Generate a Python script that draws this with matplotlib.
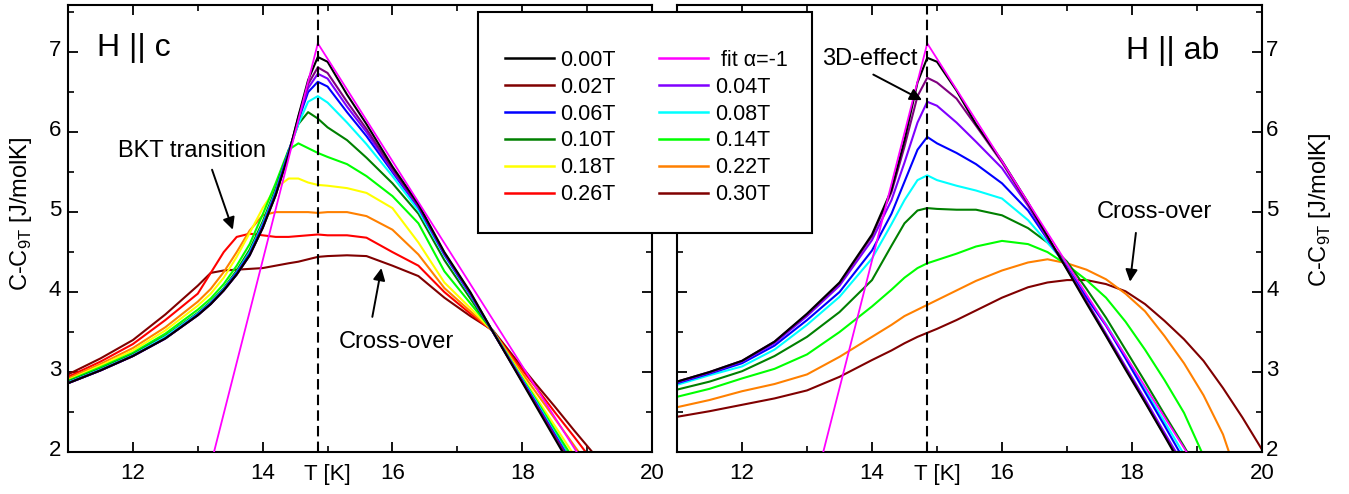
import numpy as np
import matplotlib.pyplot as plt
from matplotlib.lines import Line2D
from matplotlib.patches import Rectangle
from matplotlib.ticker import MultipleLocator
import matplotlib.transforms as mtransforms

plt.rcParams['font.family'] = ['Liberation Sans', 'DejaVu Sans']

# ---- data ----
# H || c panel, shared temperature grid
TL = [11.0, 11.5, 12.0, 12.5, 13.0, 13.2, 13.4, 13.6, 13.8, 14.0, 14.2, 14.4, 14.55, 14.7,
      14.85, 15.0, 15.3, 15.6, 16.0, 16.4, 16.8, 17.2, 17.55, 17.9, 18.2, 18.5, 18.8, 19.1, 19.3]

c000 = [2.86, 3.02, 3.20, 3.42, 3.71, 3.85, 4.02, 4.22, 4.46, 4.80, 5.21, 5.72, 6.20, 6.65,
        6.94, 6.88, 6.47, 6.10, 5.57, 5.10, 4.50, 4.00, 3.50, 3.01, 2.59, 2.17, 1.75]
c002 = [2.86, 3.02, 3.20, 3.42, 3.71, 3.85, 4.02, 4.22, 4.46, 4.80, 5.21, 5.72, 6.19, 6.60,
        6.81, 6.74, 6.38, 6.04, 5.54, 5.08, 4.49, 3.99, 3.50, 3.02, 2.61, 2.20, 1.79]
c004 = [2.86, 3.02, 3.20, 3.42, 3.71, 3.85, 4.02, 4.22, 4.46, 4.81, 5.22, 5.73, 6.17, 6.55,
        6.73, 6.67, 6.32, 6.00, 5.52, 5.07, 4.48, 3.98, 3.50, 3.02, 2.61, 2.20, 1.79]
c006 = [2.86, 3.02, 3.20, 3.42, 3.72, 3.86, 4.03, 4.24, 4.48, 4.83, 5.24, 5.75, 6.15, 6.50,
        6.63, 6.57, 6.25, 5.95, 5.50, 5.06, 4.47, 3.97, 3.50, 3.03, 2.63, 2.22, 1.81]
c008 = [2.87, 3.03, 3.21, 3.44, 3.73, 3.87, 4.04, 4.25, 4.50, 4.85, 5.26, 5.76, 6.10, 6.38,
        6.45, 6.37, 6.12, 5.85, 5.45, 5.02, 4.46, 3.96, 3.50, 3.04, 2.65, 2.24, 1.83]
c010 = [2.88, 3.04, 3.22, 3.45, 3.74, 3.88, 4.05, 4.27, 4.53, 4.88, 5.29, 5.77, 6.10, 6.25,
        6.17, 6.06, 5.90, 5.68, 5.36, 4.98, 4.40, 3.92, 3.50, 3.03, 2.64, 2.24, 1.84]
c014 = [2.89, 3.06, 3.24, 3.48, 3.78, 3.92, 4.10, 4.33, 4.60, 4.97, 5.36, 5.78, 5.86, 5.80,
        5.74, 5.69, 5.60, 5.45, 5.20, 4.86, 4.26, 3.86, 3.51, 3.05, 2.67, 2.28, 1.90]
c018 = [2.90, 3.08, 3.27, 3.52, 3.83, 3.98, 4.18, 4.44, 4.74, 5.05, 5.30, 5.42, 5.42, 5.37,
        5.34, 5.33, 5.30, 5.24, 5.05, 4.62, 4.12, 3.80, 3.51, 3.07, 2.70, 2.33, 1.96, 1.60]
c022 = [2.92, 3.10, 3.30, 3.56, 3.88, 4.04, 4.25, 4.50, 4.77, 4.96, 5.00, 5.00, 5.00, 5.00,
        4.99, 5.00, 5.00, 4.95, 4.78, 4.47, 4.05, 3.76, 3.51, 3.10, 2.76, 2.42, 2.08, 1.74]
c026 = [2.94, 3.13, 3.35, 3.65, 3.98, 4.24, 4.50, 4.69, 4.73, 4.71, 4.69, 4.69, 4.70, 4.71,
        4.72, 4.71, 4.71, 4.68, 4.50, 4.33, 4.00, 3.73, 3.51, 3.13, 2.82, 2.50, 2.19, 1.87]
c030 = [2.97, 3.17, 3.40, 3.72, 4.08, 4.24, 4.27, 4.28, 4.29, 4.30, 4.33, 4.36, 4.38, 4.41,
        4.44, 4.45, 4.46, 4.45, 4.33, 4.20, 3.93, 3.70, 3.52, 3.16, 2.86, 2.57, 2.27, 1.98, 1.78]

# H || ab panel, shared temperature grid
TR = [11.0, 11.5, 12.0, 12.5, 13.0, 13.5, 14.0, 14.3, 14.5, 14.7, 14.85, 15.0, 15.3, 15.6,
      16.0, 16.4, 16.7, 17.0, 17.3, 17.6, 17.9, 18.2, 18.5, 18.8, 19.1, 19.4, 19.7, 20.0]

r000 = [2.88, 3.00, 3.14, 3.38, 3.73, 4.12, 4.72, 5.28, 5.90, 6.62, 6.93, 6.88, 6.52, 6.10,
        5.64, 5.12, 4.70, 4.28, 3.86, 3.45, 3.03, 2.62, 2.20, 1.77]
r002 = [2.88, 3.00, 3.14, 3.38, 3.72, 4.11, 4.70, 5.25, 5.82, 6.45, 6.68, 6.62, 6.42, 6.08,
        5.62, 5.10, 4.69, 4.29, 3.88, 3.46, 3.05, 2.63, 2.21, 1.80]
r004 = [2.87, 2.99, 3.13, 3.36, 3.70, 4.08, 4.65, 5.15, 5.62, 6.12, 6.38, 6.33, 6.12, 5.88,
        5.55, 5.08, 4.67, 4.30, 3.89, 3.48, 3.07, 2.66, 2.24, 1.83]
r006 = [2.86, 2.98, 3.11, 3.33, 3.65, 4.00, 4.52, 4.98, 5.38, 5.78, 5.94, 5.86, 5.74, 5.60,
        5.36, 5.02, 4.66, 4.31, 3.93, 3.58, 3.17, 2.75, 2.33, 1.90]
r008 = [2.84, 2.96, 3.07, 3.28, 3.59, 3.94, 4.42, 4.85, 5.15, 5.40, 5.46, 5.40, 5.33, 5.27,
        5.17, 4.90, 4.62, 4.33, 3.95, 3.60, 3.20, 2.78, 2.38, 1.97, 1.60]
r010 = [2.78, 2.88, 3.01, 3.20, 3.44, 3.75, 4.15, 4.58, 4.86, 5.02, 5.05, 5.04, 5.03, 5.03,
        4.96, 4.80, 4.62, 4.38, 4.04, 3.68, 3.28, 2.88, 2.47, 2.07, 1.65]
r014 = [2.69, 2.79, 2.92, 3.04, 3.22, 3.50, 3.82, 4.03, 4.18, 4.30, 4.36, 4.40, 4.48, 4.57,
        4.64, 4.60, 4.50, 4.34, 4.15, 3.93, 3.63, 3.28, 2.90, 2.49, 1.95, 1.50]
r022 = [2.56, 2.65, 2.76, 2.85, 2.97, 3.19, 3.44, 3.59, 3.70, 3.78, 3.84, 3.90, 4.02, 4.14,
        4.27, 4.37, 4.41, 4.36, 4.28, 4.16, 3.98, 3.76, 3.45, 3.11, 2.71, 2.22, 1.50]
r030 = [2.44, 2.51, 2.59, 2.67, 2.77, 2.94, 3.15, 3.27, 3.36, 3.44, 3.49, 3.54, 3.65, 3.77,
        3.93, 4.06, 4.12, 4.15, 4.15, 4.10, 4.01, 3.85, 3.64, 3.41, 3.14, 2.80, 2.43, 2.03]

# linear fit alpha=-1 (same in both panels)
fit_T = [13.25, 14.85, 18.84]
fit_C = [2.0, 7.11, 2.0]
Tc = 14.85

col = {'0.00': 'black', '0.02': '#800080', '0.04': '#8000ff', '0.06': '#0000ff',
       '0.08': '#00ffff', '0.10': '#008000', '0.14': '#00ff00', '0.18': '#ffff00',
       '0.22': '#ff8000', '0.26': '#ff0000', '0.30': '#800000'}

left_curves = [('0.30', c030), ('0.26', c026), ('0.22', c022), ('0.18', c018), ('0.14', c014),
               ('0.10', c010), ('0.08', c008), ('0.06', c006), ('0.04', c004), ('0.02', c002),
               ('0.00', c000)]
right_curves = [('0.30', r030), ('0.22', r022), ('0.14', r014), ('0.10', r010), ('0.08', r008),
                ('0.06', r006), ('0.04', r004), ('0.02', r002), ('0.00', r000)]

leg_labels = ['0.00T', '0.02T', '0.06T', '0.10T', '0.18T', '0.26T',
              ' fit \u03b1=-1', '0.04T', '0.08T', '0.14T', '0.22T', '0.30T']
leg_colors = ['black', '#800000', '#0000ff', '#008000', '#ffff00', '#ff0000',
              '#ff00ff', '#8000ff', '#00ffff', '#00ff00', '#ff8000', '#800000']

W, H = 1349, 494
fig = plt.figure(figsize=(W / 100, H / 100), dpi=100)
axL = fig.add_axes([68 / W, 42 / H, 584 / W, 447 / H])
axR = fig.add_axes([677 / W, 42 / H, 585 / W, 447 / H])

up = mtransforms.ScaledTranslation(0, 4 / 100, fig.dpi_scale_trans)

for ax, T, curves in [(axL, TL, left_curves), (axR, TR, right_curves)]:
    for key, vals in curves:
        ax.plot(T[:len(vals)], vals, color=col[key], lw=1.5)
    ax.plot(fit_T, fit_C, color='#ff00ff', lw=1.3, zorder=3)
    ax.axvline(Tc, color='k', lw=1.5, ls=(0, (5, 2.5)), zorder=4)
    ax.set_xlim(11, 20)
    ax.set_ylim(2, 7.59)
    ax.xaxis.set_major_locator(MultipleLocator(2))
    ax.xaxis.set_minor_locator(MultipleLocator(1))
    ax.yaxis.set_major_locator(MultipleLocator(1))
    ax.yaxis.set_minor_locator(MultipleLocator(0.5))
    ax.tick_params(which='both', direction='in', top=True, right=True, left=True, labelsize=16)
    ax.tick_params(which='major', length=7, width=1.3, pad=5)
    ax.tick_params(which='minor', length=4, width=1.2)
    ax.tick_params(axis='x', which='major', pad=8)
    for s in ax.spines.values():
        s.set_linewidth(1.5)
    ax.set_xticks([12, 14, 16, 18, 20])
    trans = mtransforms.blended_transform_factory(ax.transData, ax.transAxes)
    ax.text(15.0, -0.027, 'T [K]', transform=trans, ha='center', va='top', fontsize=16)

axR.tick_params(labelleft=False, labelright=True)
axR.tick_params(axis='y', which='major', pad=3)
for ax in (axL, axR):
    for lab in ax.get_yticklabels():
        lab.set_transform(lab.get_transform() + up)

ylab = 'C-C$_\\mathregular{9T}$ [J/molK]'
fig.text(21 / W, 1 - 214 / H, ylab, rotation=90, ha='center', va='center', fontsize=17)
fig.text(1320 / W, 1 - 210 / H, ylab, rotation=90, ha='center', va='center', fontsize=17)

# annotations
arr = dict(arrowstyle='-|>', color='k', lw=1.4, mutation_scale=18, shrinkA=0, shrinkB=0)
axL.text(11.45, 7.05, 'H || c', fontsize=23, va='center')
axL.text(12.91, 5.76, 'BKT transition', fontsize=17, ha='center', va='center')
axL.annotate('', xy=(13.54, 4.78), xytext=(13.22, 5.53), arrowprops=arr)
axL.text(16.06, 3.38, 'Cross-over', fontsize=17, ha='center', va='center')
axL.annotate('', xy=(15.83, 4.3), xytext=(15.69, 3.69), arrowprops=arr)

axR.text(19.35, 7.02, 'H || ab', fontsize=23, ha='right', va='center')
axR.text(13.97, 6.91, '3D-effect', fontsize=17, ha='center', va='center')
axR.annotate('', xy=(14.77, 6.4), xytext=(14.02, 6.72), arrowprops=arr)
axR.text(18.34, 5.0, 'Cross-over', fontsize=17, ha='center', va='center')
axR.annotate('', xy=(17.97, 4.13), xytext=(18.06, 4.74), arrowprops=arr)

# legend box spanning both panels
box = Rectangle((478 / W, 1 - 233 / H), 334 / W, 221 / H, transform=fig.transFigure,
                fc='white', ec='k', lw=1.5, zorder=4)
fig.add_artist(box)
handles = [Line2D([], [], color=c, lw=1.8) for c in leg_colors]
leg = fig.legend(handles, leg_labels, loc='upper left', bbox_to_anchor=(505 / W, 1 - 50 / H),
                 ncol=2, frameon=False, fontsize=15.5, handlelength=2.28, handletextpad=0.3,
                 columnspacing=2.0, labelspacing=0.27, borderpad=0, borderaxespad=0)
leg.set_zorder(5)

fig.savefig('out.png', dpi=100)
